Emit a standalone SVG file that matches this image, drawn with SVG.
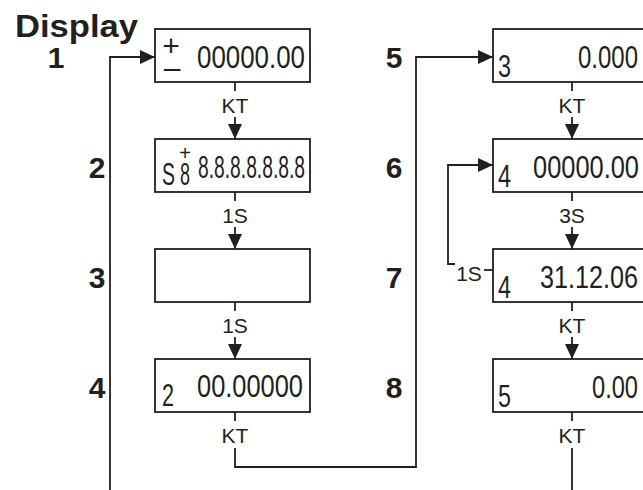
<svg xmlns="http://www.w3.org/2000/svg" width="643" height="490" viewBox="0 0 643 490">
<style>
 .box{fill:#fff;stroke:#231f20;stroke-width:1.8}
 .num{font-family:"Liberation Sans",Arial,sans-serif;font-size:32px;fill:#231f20}
 .idx{font-family:"Liberation Sans",Arial,sans-serif;font-weight:bold;font-size:30px;fill:#231f20;text-anchor:middle}
 .lbl{font-family:"Liberation Sans",Arial,sans-serif;font-size:21px;fill:#231f20;text-anchor:middle}
 .wire{fill:none;stroke:#231f20;stroke-width:1.8}
</style>
<defs>
 <marker id="ah" markerUnits="userSpaceOnUse" markerWidth="15" markerHeight="14" refX="15" refY="7" orient="auto"><path d="M0,0 L15,7 L0,14 z" fill="#231f20"/></marker>
</defs>
<rect width="643" height="490" fill="#fff"/>
<text x="15" y="37" class="idx" style="text-anchor:start;font-size:32px" textLength="123" lengthAdjust="spacingAndGlyphs">Display</text>

<g id="node1">
 <text x="56" y="68" class="idx">1</text>
 <rect class="box" x="155" y="29" width="155" height="53"/>
 <text x="171" y="56" class="num" style="font-size:30px;text-anchor:middle">+</text>
 <text x="172" y="78" class="num" style="font-size:30px;text-anchor:middle">–</text>
 <text x="197" y="68" class="num" textLength="108" lengthAdjust="spacingAndGlyphs">00000.00</text>
</g>
<g id="node2">
 <text x="97" y="178" class="idx">2</text>
 <rect class="box" x="155" y="139" width="155" height="53"/>
 <text x="162" y="185" class="num" textLength="13" lengthAdjust="spacingAndGlyphs">S</text>
 <text x="185" y="160" class="num" style="font-size:20px;text-anchor:middle">+</text>
 <text x="180" y="185" class="num" textLength="10" lengthAdjust="spacingAndGlyphs">8</text>
 <text x="198" y="178" class="num" textLength="107" lengthAdjust="spacingAndGlyphs">8.8.8.8.8.8.8</text>
</g>
<g id="node3">
 <text x="97" y="288" class="idx">3</text>
 <rect class="box" x="155" y="249" width="155" height="53"/>
</g>
<g id="node4">
 <text x="97" y="398" class="idx">4</text>
 <rect class="box" x="155" y="359" width="155" height="53"/>
 <text x="162" y="406" class="num" textLength="12" lengthAdjust="spacingAndGlyphs">2</text>
 <text x="197" y="397" class="num" textLength="106" lengthAdjust="spacingAndGlyphs">00.00000</text>
</g>
<g id="node5">
 <text x="394" y="68" class="idx">5</text>
 <rect class="box" x="493" y="29" width="155" height="53"/>
 <text x="498" y="77" class="num" textLength="13" lengthAdjust="spacingAndGlyphs">3</text>
 <text x="578" y="68" class="num" textLength="60" lengthAdjust="spacingAndGlyphs">0.000</text>
</g>
<g id="node6">
 <text x="394" y="178" class="idx">6</text>
 <rect class="box" x="493" y="139" width="155" height="53"/>
 <text x="498" y="187" class="num" textLength="13" lengthAdjust="spacingAndGlyphs">4</text>
 <text x="533" y="178" class="num" textLength="106" lengthAdjust="spacingAndGlyphs">00000.00</text>
</g>
<g id="node7">
 <text x="394" y="288" class="idx">7</text>
 <rect class="box" x="493" y="249" width="155" height="53"/>
 <text x="498" y="298" class="num" textLength="13" lengthAdjust="spacingAndGlyphs">4</text>
 <text x="540" y="288" class="num" textLength="98" lengthAdjust="spacingAndGlyphs">31.12.06</text>
</g>
<g id="node8">
 <text x="394" y="398" class="idx">8</text>
 <rect class="box" x="493" y="359" width="155" height="53"/>
 <text x="498" y="407" class="num" textLength="13" lengthAdjust="spacingAndGlyphs">5</text>
 <text x="592" y="398" class="num" textLength="46" lengthAdjust="spacingAndGlyphs">0.00</text>
</g>

<g id="connectors">
 <path class="wire" d="M110,490 V57 H155" marker-end="url(#ah)"/>
 <path class="wire" d="M235,82 V91"/>
 <text x="235" y="113" class="lbl">KT</text>
 <path class="wire" d="M235,117 V139" marker-end="url(#ah)"/>
 <path class="wire" d="M235,192 V201"/>
 <text x="235" y="223" class="lbl">1S</text>
 <path class="wire" d="M235,227 V249" marker-end="url(#ah)"/>
 <path class="wire" d="M235,302 V311"/>
 <text x="235" y="333" class="lbl">1S</text>
 <path class="wire" d="M235,337 V359" marker-end="url(#ah)"/>
 <path class="wire" d="M235,412 V421"/>
 <text x="235" y="443" class="lbl">KT</text>
 <path class="wire" d="M235,448 V467 H416 V57 H493" marker-end="url(#ah)"/>

 <path class="wire" d="M572,82 V91"/>
 <text x="572" y="113" class="lbl">KT</text>
 <path class="wire" d="M572,117 V139" marker-end="url(#ah)"/>
 <path class="wire" d="M572,192 V201"/>
 <text x="572" y="223" class="lbl">3S</text>
 <path class="wire" d="M572,227 V249" marker-end="url(#ah)"/>
 <path class="wire" d="M572,302 V311"/>
 <text x="572" y="333" class="lbl">KT</text>
 <path class="wire" d="M572,337 V359" marker-end="url(#ah)"/>
 <path class="wire" d="M572,412 V421"/>
 <text x="572" y="443" class="lbl">KT</text>
 <path class="wire" d="M572,448 V490"/>

 <path class="wire" d="M493,270 H484"/>
 <text x="469" y="281" class="lbl">1S</text>
 <path class="wire" d="M455,264 H448 V165 H493" marker-end="url(#ah)"/>
</g>
</svg>
